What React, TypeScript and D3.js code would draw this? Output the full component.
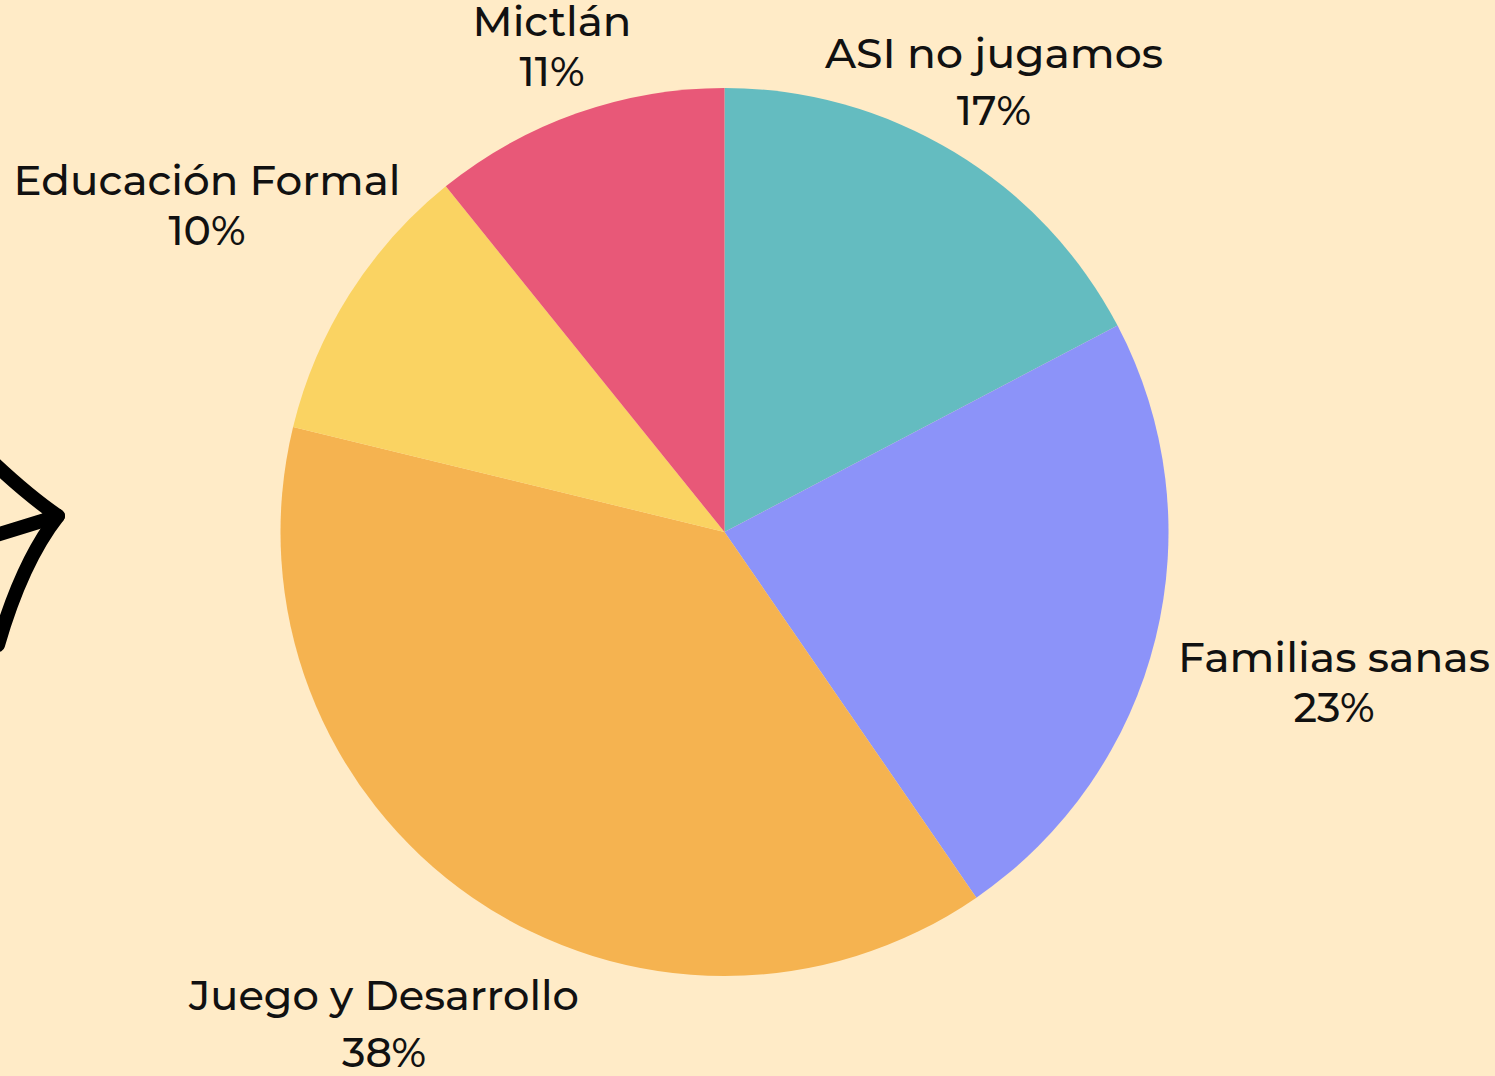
import React from "react";
import * as d3 from "d3";

const categories = ["ASI no jugamos", "Familias sanas", "Juego y Desarrollo", "Educación Formal", "Mictlán"];
const values = [17.3, 23.1, 38.4, 10.4, 10.8];
const percentLabels = ["17%", "23%", "38%", "10%", "11%"];
const colors = ["#64BCC0", "#8C93F9", "#F5B350", "#FAD362", "#E85878"];

// layout for labels (center x, first baseline, line gap, name width)
const labelLayout = [
  { x: 994, y: 68, gap: 57, w: 338 },
  { x: 1334, y: 672, gap: 50, w: 312 },
  { x: 384, y: 1010, gap: 57, w: 390 },
  { x: 207, y: 195, gap: 50, w: 387 },
  { x: 552, y: 36, gap: 50, w: 159 },
];

const W = 1495;
const H = 1076;
const cx = 724.5;
const cy = 532;
const R = 444;

export default function App() {
  const pie = d3.pie<number>().sort(null).value((d) => d);
  const arcs = pie(values);
  const arc = d3.arc<d3.PieArcDatum<number>>().innerRadius(0).outerRadius(R);
  const font = "Montserrat, 'Noto Sans', 'Open Sans', sans-serif";
  return (
    <svg width={W} height={H} style={{ position: "absolute", left: 0, top: 0 }}>
      <rect width={W} height={H} fill="#FFEBC7" />
      <g transform={`translate(${cx},${cy})`}>
        {arcs.map((a, i) => (
          <path key={i} d={arc(a) || ""} fill={colors[i]} />
        ))}
      </g>
      <g fill="none" stroke="#000" strokeWidth={14} strokeLinecap="round" strokeLinejoin="round">
        <path d="M -30 440 Q 20 490 58 516 L -20 540" />
        <path d="M 58 516 Q 22 562 -2 645" />
      </g>
      {categories.map((c, i) => {
        const l = labelLayout[i];
        return (
          <g key={c} fontFamily={font} fontSize={41} fontWeight={500} fill="#111" textAnchor="middle">
            <text x={l.x} y={l.y} textLength={l.w} lengthAdjust="spacingAndGlyphs">{c}</text>
            <text x={l.x} y={l.y + l.gap}>{percentLabels[i]}</text>
          </g>
        );
      })}
    </svg>
  );
}
